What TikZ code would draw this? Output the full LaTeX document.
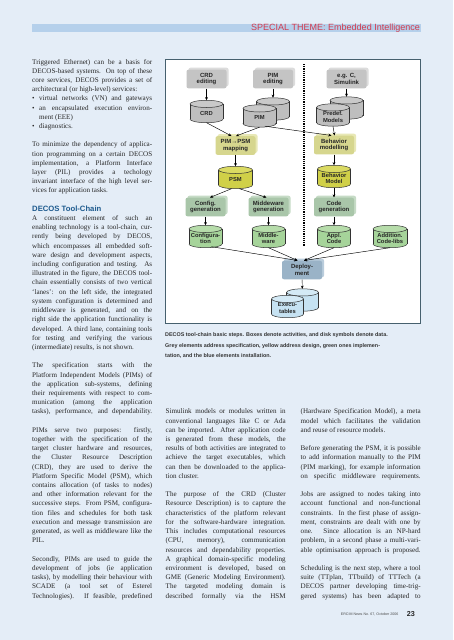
\documentclass[tikz,border=0pt]{standalone}
\usepackage{fontspec}
\setmainfont{Liberation Serif}
\setsansfont{Liberation Sans}
\usetikzlibrary{arrows.meta,calc}
\definecolor{pagebg}{HTML}{E4EDF7}
\definecolor{hdrbar}{HTML}{B5D0EB}
\definecolor{hdrred}{HTML}{D23A4E}
\definecolor{headblue}{HTML}{1D5A8E}
\definecolor{txt}{HTML}{262626}
\definecolor{framec}{HTML}{46606E}
\definecolor{greyF}{HTML}{C4C4C4}\definecolor{greyB}{HTML}{DCDCDC}
\definecolor{yelF}{HTML}{D6D68E}\definecolor{yelB}{HTML}{E8E8B6}
\definecolor{grnF}{HTML}{A9C6A9}\definecolor{grnB}{HTML}{C6DBC6}
\definecolor{bluF}{HTML}{9AB3C7}\definecolor{bluB}{HTML}{BACDDC}
\definecolor{greyC}{HTML}{BEBEBE}\definecolor{greyT}{HTML}{C9C9C9}
\definecolor{yelC}{HTML}{D0D048}\definecolor{yelT}{HTML}{DADA62}
\definecolor{grnC}{HTML}{A6D49A}\definecolor{grnT}{HTML}{B6DCAA}
\definecolor{bluC}{HTML}{C6E2F2}\definecolor{bluT}{HTML}{D4EAF6}
\tikzset{
 actf/.style={rounded corners=2pt, minimum width=40pt, minimum height=18.6pt, inner sep=0, align=center,
   font=\sffamily\bfseries\fontsize{6}{6.8}\selectfont, text=black!85},
 actb/.style={rounded corners=2pt, minimum width=40pt, minimum height=18.6pt, inner sep=0},
 arr/.style={-{Stealth[length=3.2pt,width=2.8pt]}, line width=0.45pt, draw=black},
 cyltxt/.style={font=\sffamily\bfseries\fontsize{5.8}{6.6}\selectfont, align=center, inner sep=0, text=black!85},
 cylline/.style={draw=black!80, line width=0.5pt},
 colnode/.style={anchor=base west, inner sep=0, text=txt, font=\fontsize{7.1}{9.207}\selectfont},
}
% activity box: name, x, y, front colour, back colour, text
\newcommand\actbox[6]{%
 \node[actb, fill=#5] at ($(#2,#3)+(2pt,2pt)$) {};
 \node[actf, fill=#4] (#1) at (#2,#3) {#6};}
% cylinder: name, x, y, width, body colour, top colour, text
\newcommand\dcyl[7]{%
 \node[minimum width=#4pt, minimum height=22pt, inner sep=0, draw=none] (#1) at (#2,#3) {};
 \fill[#5] ($(#1.north west)+(0,-3.6pt)$) rectangle ($(#1.south east)+(0,3.6pt)$);
 \fill[#5] ($(#1.south)+(0,3.6pt)$) ellipse[x radius=#4pt/2, y radius=3.6pt];
 \draw[cylline] ($(#1.north west)+(0,-3.6pt)$) -- ($(#1.south west)+(0,3.6pt)$);
 \draw[cylline] ($(#1.north east)+(0,-3.6pt)$) -- ($(#1.south east)+(0,3.6pt)$);
 \begin{scope}
  \clip ($(#1.south west)+(-1pt,3.6pt)$) rectangle ($(#1.south east)+(1pt,-1pt)$);
  \draw[cylline] ($(#1.south)+(0,3.6pt)$) ellipse[x radius=#4pt/2, y radius=3.6pt];
 \end{scope}
 \draw[cylline, fill=#6] ($(#1.north)+(0,-3.6pt)$) ellipse[x radius=#4pt/2, y radius=3.6pt];
 \node[cyltxt] at ($(#1.center)+(0,-1.8pt)$) {#7};}
\newcommand\J[1]{\hbox to\hsize{#1}}
\newcommand\N[1]{\hbox{#1}}
\newcommand\E{\hbox{}}
\newcommand\bul{\hbox to 7pt{•\hss}}
\begin{document}
\begin{tikzpicture}[x=1pt,y=-1pt]
\useasboundingbox (0,0) rectangle (453,640);
\fill[pagebg] (0,0) rectangle (453,640);
% header
\fill[hdrbar] (32,24.3) rectangle (420.7,32);
\node[anchor=east, inner sep=0, font=\sffamily\fontsize{9}{10}\selectfont, text=hdrred] (hdr) at (420,28.3) {SPECIAL THEME: Embedded Intelligence};
% left column
\node[colnode] (colA) at (32,64) {\vtop{\hsize=120pt \lineskiplimit=-20pt \baselineskip=9.207pt
\J{Triggered Ethernet) can be a basis for}
\J{DECOS-based systems. On top of these}
\J{core services, DECOS provides a set of}
\N{architectural (or high-level) services:}
\J{\bul virtual networks (VN) and gateways}
\J{\bul an encapsulated execution environ-}
\N{\hspace*{7pt}ment (EEE)}
\N{\bul diagnostics.}
\E
\J{To minimize the dependency of applica-}
\J{tion programming on a certain DECOS}
\J{implementation, a Platform Interface}
\J{layer (PIL) provides a techology}
\J{invariant interface of the high level ser-}
\N{vices for application tasks.}
\E
\N{\sffamily\bfseries\fontsize{7.7}{9}\selectfont\color{headblue}DECOS Tool-Chain}
\J{A constituent element of such an}
\J{enabling technology is a tool-chain, cur-}
\J{rently being developed by DECOS,}
\J{which encompasses all embedded soft-}
\J{ware design and development aspects,}
\J{including configuration and testing. As}
\J{illustrated in the figure, the DECOS tool-}
\J{chain essentially consists of two vertical}
\J{`lanes': on the left side, the integrated}
\J{system configuration is determined and}
\J{middleware is generated, and on the}
\J{right side the application functionality is}
\J{developed. A third lane, containing tools}
\J{for testing and verifying the various}
\N{(intermediate) results, is not shown.}
\E
\J{The specification starts with the}
\J{Platform Independent Models (PIMs) of}
\J{the application sub-systems, defining}
\J{their requirements with respect to com-}
\J{munication (among the application}
\J{tasks), performance, and dependability.}
\E
\J{PIMs serve two purposes: firstly,}
\J{together with the specification of the}
\J{target cluster hardware and resources,}
\J{the Cluster Resource Description}
\J{(CRD), they are used to derive the}
\J{Platform Specific Model (PSM), which}
\J{contains allocation (of tasks to nodes)}
\J{and other information relevant for the}
\J{successive steps. From PSM, configura-}
\J{tion files and schedules for both task}
\J{execution and message transmission are}
\J{generated, as well as middleware like the}
\N{PIL.}
\E
\J{Secondly, PIMs are used to guide the}
\J{development of jobs (ie application}
\J{tasks), by modelling their behaviour with}
\J{SCADE (a tool set of Esterel}
\J{Technologies). If feasible, predefined}
}};
% middle column
\node[colnode] (colB) at (165.5,413.9) {\vtop{\hsize=120pt \lineskiplimit=-20pt \baselineskip=9.207pt
\J{Simulink models or modules written in}
\J{conventional languages like C or Ada}
\J{can be imported. After application code}
\J{is generated from these models, the}
\J{results of both activities are integrated to}
\J{achieve the target executables, which}
\J{can then be downloaded to the applica-}
\N{tion cluster.}
\E
\J{The purpose of the CRD (Cluster}
\J{Resource Description) is to capture the}
\J{characteristics of the platform relevant}
\J{for the software-hardware integration.}
\J{This includes computational resources}
\J{(CPU, memory), communication}
\J{resources and dependability properties.}
\J{A graphical domain-specific modeling}
\J{environment is developed, based on}
\J{GME (Generic Modeling Environment).}
\J{The targeted modeling domain is}
\J{described formally via the HSM}
}};
% right column
\node[colnode] (colC) at (300.5,413.9) {\vtop{\hsize=120pt \lineskiplimit=-20pt \baselineskip=9.207pt
\J{(Hardware Specification Model), a meta}
\J{model which facilitates the validation}
\N{and reuse of resource models.}
\E
\J{Before generating the PSM, it is possible}
\J{to add information manually to the PIM}
\J{(PIM marking), for example information}
\J{on specific middleware requirements.}
\E
\J{Jobs are assigned to nodes taking into}
\J{account functional and non-functional}
\J{constraints. In the first phase of assign-}
\J{ment, constraints are dealt with one by}
\J{one. Since allocation is an NP-hard}
\J{problem, in a second phase a multi-vari-}
\J{able optimisation approach is proposed.}
\E
\J{Scheduling is the next step, where a tool}
\J{suite (TTplan, TTbuild) of TTTech (a}
\J{DECOS partner developing time-trig-}
\J{gered systems) has been adapted to}
}};
% caption
\node[anchor=base west, inner sep=0, text=black!80, font=\sffamily\bfseries\fontsize{5.4}{10.5}\selectfont] (cap) at (165,336.8)
 {\vtop{\hsize=260pt \lineskiplimit=-20pt \baselineskip=10.5pt
 \N{DECOS tool-chain basic steps. Boxes denote activities, and disk symbols denote data.}
 \N{Grey elements address specification, yellow address design, green ones implemen-}
 \N{tation, and the blue elements installation.}}};
% footer
\node[anchor=base east, inner sep=0, font=\sffamily\fontsize{3.6}{4}\selectfont, text=black!70] (foot) at (398.5,615.5) {ERCIM News No. 67, October 2006};
\node[anchor=base east, inner sep=0, font=\sffamily\bfseries\fontsize{7.2}{8}\selectfont, text=black!85] (pg) at (415,616.5) {23};
% figure frame
\draw[framec, line width=0.8pt, fill=white] (165,59) rectangle (420,323);
% dotted lane separator
\coordinate (dotT) at (304,64);
\coordinate (dotB) at (304,246);
\draw[line width=1.3pt, dash pattern=on 1.1pt off 1.1pt] (dotT) -- (dotB);
% activities
\actbox{crdE}{206.5}{79}{greyF}{greyB}{CRD\\editing}
\actbox{pimE}{273}{79}{greyF}{greyB}{PIM\\editing}
\actbox{cE}{346.5}{79}{greyF}{greyB}{e.g. C,\\Simulink}
\actbox{map}{235.5}{145.5}{yelF}{yelB}{PIM→PSM\\mapping}
\actbox{beh}{334}{145}{yelF}{yelB}{Behavior\\modelling}
\actbox{cfgG}{205.5}{207}{grnF}{grnB}{Config.\\generation}
\actbox{mwG}{268.5}{207}{grnF}{grnB}{Middeware\\generation}
\actbox{codeG}{334}{207}{grnF}{grnB}{Code\\generation}
\actbox{dep}{302}{270}{bluF}{bluB}{Deploy-\\ment}
% data
\dcyl{crd}{206.5}{111.5}{33}{greyC}{greyT}{CRD}
\dcyl{pimB}{273}{109}{33}{greyC}{greyT}{}
\dcyl{pim}{259.5}{116}{33}{greyC}{greyT}{PIM}
\dcyl{preB}{346.5}{108}{33}{greyC}{greyT}{}
\dcyl{pre}{333}{115}{33}{greyC}{greyT}{Predef.\\Models}
\dcyl{psm}{235.5}{177.5}{34}{yelC}{yelT}{PSM}
\dcyl{bm}{334}{176.5}{33}{yelC}{yelT}{Behavior\\Model}
\dcyl{conf}{205.5}{236.5}{33}{grnC}{grnT}{Configura-\\tion}
\dcyl{mw}{268.5}{236.5}{33}{grnC}{grnT}{Middle-\\ware}
\dcyl{appl}{334}{236.5}{33}{grnC}{grnT}{Appl.\\Code}
\dcyl{addl}{390}{236.5}{34}{grnC}{grnT}{Addition.\\Code-libs}
\dcyl{exeB}{302.5}{300}{32}{bluC}{bluT}{}
\dcyl{exe}{287.5}{306.5}{32}{bluC}{bluT}{Execu-\\tables}
% connectors
\draw[arr] (crdE) -- (crd);
\draw[arr] (pimE) -- (pimB);
\draw[arr] (cE) -- (preB);
\draw[arr] (crd.south) -- ($(map.north)+(-4pt,0)$);
\draw[arr] (pim.south) -- ($(map.north)+(0.5pt,0)$);
\draw[arr] ($(pim.south)+(5.5pt,1pt)$) -- ($(beh.north)+(-2.5pt,0)$);
\draw[arr] (pre.south) -- ($(beh.north)+(0.5pt,0)$);
\draw[arr] (map) -- (psm);
\draw[arr] (beh) -- (bm);
\draw[arr] ($(psm.south)+(-4pt,0)$) -- ($(cfgG.north)+(4.5pt,0)$);
\draw[arr] ($(psm.south)+(4pt,0)$) -- ($(mwG.north)+(-2pt,0)$);
\draw[arr] (bm) -- (codeG);
\draw[arr] (cfgG) -- (conf);
\draw[arr] (mwG) -- (mw);
\draw[arr] (codeG) -- (appl);
\draw[arr] ($(conf.south)+(6pt,1pt)$) -- ($(dep.north)+(-4.5pt,0)$);
\draw[arr] (mw.south) -- ($(dep.north)+(-4.5pt,0)$);
\draw[arr] (appl.south) -- ($(dep.north)+(2pt,0)$);
\draw[arr] (addl.south) -- ($(dep.north)+(2pt,0)$);
\draw[arr] (dep) -- (exeB);
\end{tikzpicture}
\end{document}
